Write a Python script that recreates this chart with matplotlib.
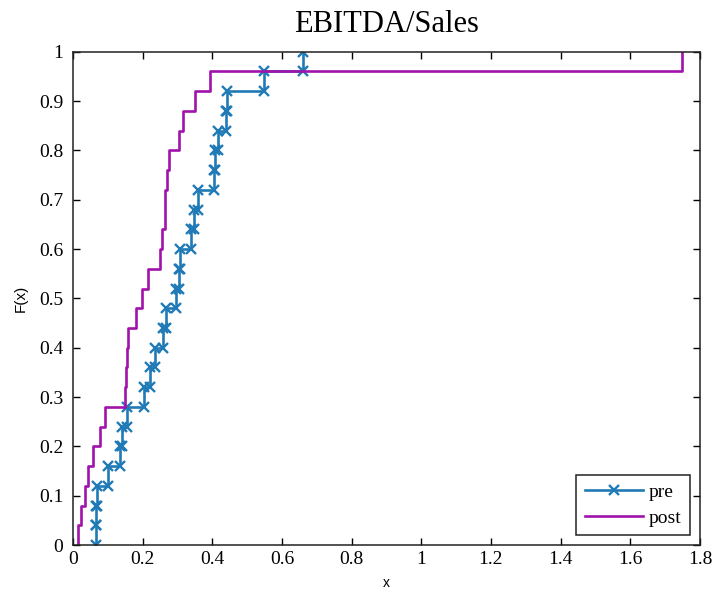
import numpy as np
import matplotlib
matplotlib.use("Agg")
import matplotlib.pyplot as plt
from matplotlib.ticker import FuncFormatter

# sorted sample values (n = 25 each)
pre_x = [0.066, 0.066, 0.070, 0.102, 0.135, 0.142, 0.155, 0.205, 0.222,
         0.236, 0.258, 0.267, 0.297, 0.305, 0.308, 0.339, 0.347, 0.358,
         0.404, 0.409, 0.416, 0.438, 0.441, 0.548, 0.659]
post_x = [0.015, 0.023, 0.035, 0.044, 0.058, 0.078, 0.092, 0.150, 0.153,
          0.155, 0.159, 0.182, 0.198, 0.215, 0.249, 0.257, 0.263, 0.265,
          0.270, 0.275, 0.305, 0.315, 0.349, 0.393, 1.749]

x_ticks = [0, 0.2, 0.4, 0.6, 0.8, 1.0, 1.2, 1.4, 1.6, 1.8]
y_ticks = [0, 0.1, 0.2, 0.3, 0.4, 0.5, 0.6, 0.7, 0.8, 0.9, 1.0]

pre_color = '#1f7ab6'
post_color = '#a112aa'


def ecdf_stairs(vals):
    # stair vertices of the empirical cdf, like matlab's stairs(ecdf(...))
    v = np.sort(np.asarray(vals))
    n = len(v)
    f = np.arange(1, n + 1) / n
    xs = np.repeat(v, 2)
    ys = np.empty(2 * n)
    ys[0::2] = np.concatenate([[0], f[:-1]])
    ys[1::2] = f
    return xs, ys


serif = 'Liberation Serif'

fig = plt.figure(figsize=(7.15, 5.95), dpi=100)
ax = fig.add_axes([0.102, 0.084, 0.877, 0.829])

xs, ys = ecdf_stairs(pre_x)
ax.plot(xs, ys, color=pre_color, lw=1.9, marker='x', ms=6.5, mew=1.7, label='pre')
xs, ys = ecdf_stairs(post_x)
ax.plot(xs, ys, color=post_color, lw=1.9, label='post')

ax.set_xlim(0, 1.8)
ax.set_ylim(0, 1)
ax.set_xticks(x_ticks)
ax.set_yticks(y_ticks)
fmt = FuncFormatter(lambda v, p: '%g' % round(v, 2))
ax.xaxis.set_major_formatter(fmt)
ax.yaxis.set_major_formatter(fmt)
ax.tick_params(direction='in', length=5, width=1, top=True, right=True,
               labelsize=14)
ax.tick_params(axis='y', pad=7)
ax.tick_params(axis='x', pad=4)
for lab in ax.get_xticklabels() + ax.get_yticklabels():
    lab.set_family(serif)
for s in ax.spines.values():
    s.set_linewidth(1.1)
    s.set_color('#222222')

ax.set_title('EBITDA/Sales', family=serif, fontsize=22, pad=14)
ax.set_xlabel('x', family='Liberation Sans', fontsize=10, labelpad=6)
ax.set_ylabel('F(x)', family='Liberation Sans', fontsize=11, labelpad=8)

leg = ax.legend(loc='lower right', numpoints=1, handlelength=3.0,
                prop={'family': serif, 'size': 14}, fancybox=False,
                framealpha=1, edgecolor='#222222', borderaxespad=0.5,
                handletextpad=0.3, labelspacing=0.4, borderpad=0.45)
leg.get_frame().set_linewidth(1.1)

fig.savefig('out.png', dpi=100)
